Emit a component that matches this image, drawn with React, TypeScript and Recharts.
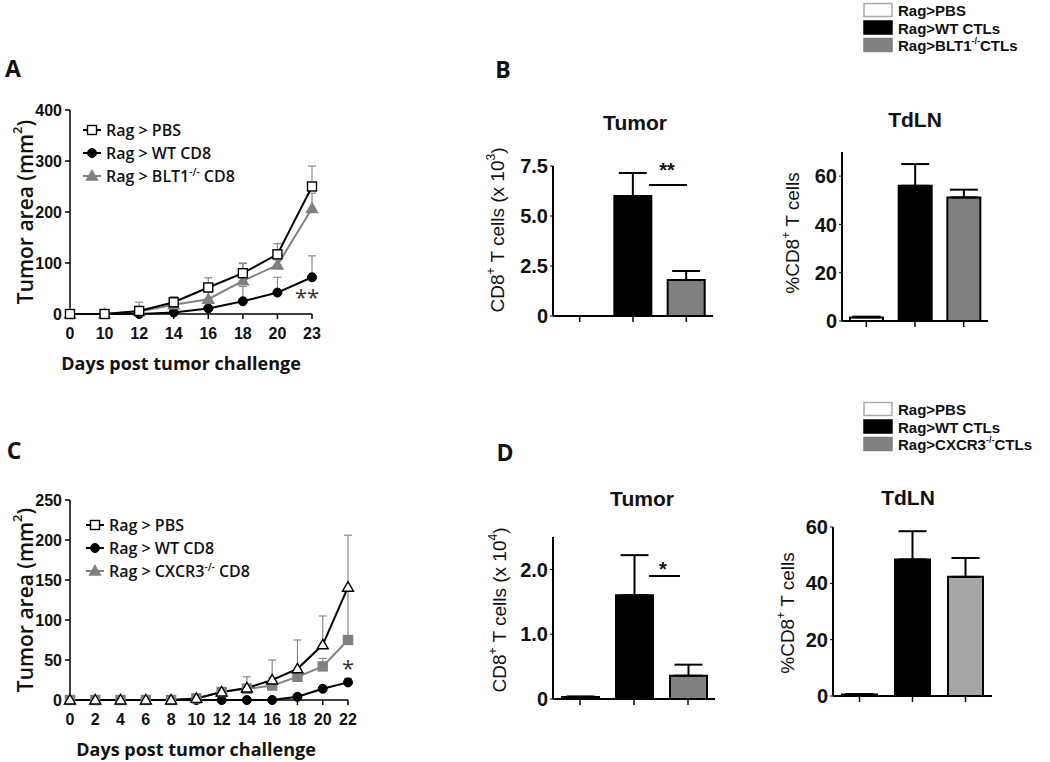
import React from "react";
import { LineChart, Line, XAxis, YAxis, ErrorBar, BarChart, Bar, Cell } from "recharts";

// ---- panel A: tumor growth, BLT1 ----
const daysA = ["0", "10", "12", "14", "16", "18", "20", "23"];
const pbsA = [0, 0, 6, 23, 52, 80, 117, 250];
const pbsErrA = [0, 2, 17, 11, 19, 20, 21, 40];
const wtA = [0, 0, 0, 3, 11, 25, 42, 72];
const wtErrA = [0, 0, 1, 2, 5, 29, 30, 42];
const bltA = [0, 0, 5, 18, 29, 65, 96, 207];
const bltErrA = [0, 1, 8, 6, 14, 34, 10, 30];
const ticksA = [0, 100, 200, 300, 400];

// ---- panel C: tumor growth, CXCR3 ----
const daysC = ["0", "2", "4", "6", "8", "10", "12", "14", "16", "18", "20", "22"];
const pbsC = [0, 0, 0, 0, 0, 2, 10, 15, 25, 39, 69, 141];
const pbsErrC = [0, 0, 0, 0, 0, 1, 5, 14, 25, 36, 36, 65];
const wtC = [0, 0, 0, 0, 0, 0, 0, 0, 0, 4, 14, 22];
const wtErrC = [0, 0, 0, 0, 0, 0, 0, 0, 1, 2, 3, 5];
const cxcrC = [0, 0, 0, 0, 0, 2, 10, 14, 18, 29, 42, 75];
const cxcrErrC = [0, 0, 0, 0, 0, 1, 4, 6, 10, 8, 10, 65];
const ticksC = [0, 50, 100, 150, 200, 250];

// ---- panels B / D: bar charts ----
const groups = ["PBS", "WT", "KO"];
const tumorB = [0, 6.0, 1.8];
const tumorBErr = [0, 1.15, 0.45];
const tdlnB = [1.5, 56, 51.2];
const tdlnBErr = [0.3, 9, 3.2];
const tumorD = [0.03, 1.6, 0.36];
const tumorDErr = [0.01, 0.62, 0.17];
const tdlnD = [0.5, 48.5, 42.3];
const tdlnDErr = [0.2, 10, 6.7];

const SANS = "'Open Sans', sans-serif";
const ARIAL = "'Liberation Sans', Arial, sans-serif";
const GREY = "#808080";
const ERR = "#8a8a8a";

const tableA = daysA.map((d, i) => ({
  day: d,
  pbs: pbsA[i], pbsErr: [0, pbsErrA[i]],
  wt: wtA[i], wtErr: [0, wtErrA[i]],
  ko: bltA[i], koErr: [0, bltErrA[i]],
}));

const tableC = daysC.map((d, i) => ({
  day: d,
  pbs: pbsC[i], pbsErr: [0, pbsErrC[i]],
  wt: wtC[i], wtErr: [0, wtErrC[i]],
  ko: cxcrC[i], koErr: [0, cxcrErrC[i]],
}));

type Shape = "square" | "circle" | "triangle";

function marker(shape: Shape, cx: number, cy: number, fill: string, stroke: string, key?: any) {
  if (shape === "square")
    return <rect key={key} x={cx - 4.5} y={cy - 4.5} width={9} height={9} fill={fill} stroke={stroke} strokeWidth={1.4} />;
  if (shape === "circle")
    return <circle key={key} cx={cx} cy={cy} r={4.5} fill={fill} stroke={stroke} strokeWidth={1} />;
  return (
    <polygon key={key} points={`${cx},${cy - 5.5} ${cx + 5.5},${cy + 4} ${cx - 5.5},${cy + 4}`} fill={fill} stroke={stroke} strokeWidth={1.4} />
  );
}

const dot = (shape: Shape, fill: string, stroke: string) => (p: any) =>
  marker(shape, p.cx, p.cy, fill, stroke, `${shape}-${p.index}`);

const axisTick = { fontFamily: ARIAL, fontWeight: 700, fontSize: 16, fill: "#111" };

function GrowthChart({ data, ticks, max, top, width, height, shapes }: any) {
  return (
    <div style={{ position: "absolute", left: 0, top }}>
      <LineChart width={width} height={height} data={data} margin={{ top: 20, right: 10, bottom: 0, left: 0 }}>
        <XAxis dataKey="day" height={34} tick={axisTick} tickMargin={9} tickSize={5}
          axisLine={{ stroke: "#000", strokeWidth: 1.5 }} tickLine={{ stroke: "#000", strokeWidth: 1.5 }} />
        <YAxis width={70} domain={[0, max]} ticks={ticks} tick={axisTick} tickSize={5} tickMargin={3}
          axisLine={{ stroke: "#000", strokeWidth: 1.5 }} tickLine={{ stroke: "#000", strokeWidth: 1.5 }} />
        <Line dataKey="wt" stroke="#000" strokeWidth={2} dot={dot("circle", "#000", "#000")} isAnimationActive={false}>
          <ErrorBar dataKey="wtErr" width={4} stroke={ERR} strokeWidth={1.2} isAnimationActive={false} />
        </Line>
        <Line dataKey="ko" stroke={GREY} strokeWidth={2} dot={dot(shapes[1], GREY, GREY)} isAnimationActive={false}>
          <ErrorBar dataKey="koErr" width={4} stroke={ERR} strokeWidth={1.2} isAnimationActive={false} />
        </Line>
        <Line dataKey="pbs" stroke="#000" strokeWidth={2} dot={dot(shapes[0], "#fff", "#000")} isAnimationActive={false}>
          <ErrorBar dataKey="pbsErr" width={4} stroke={ERR} strokeWidth={1.2} isAnimationActive={false} />
        </Line>
      </LineChart>
    </div>
  );
}

const barTick = { fontFamily: ARIAL, fontWeight: 700, fontSize: 20, fill: "#111" };

function BarPanel({ left, top, width, height, marginTop, yWidth, values, errs, fills, max, ticks, fmt, barSize }: any) {
  const data = groups.map((g, i) => ({ g, v: values[i], e: [0, errs[i]] }));
  return (
    <div style={{ position: "absolute", left, top }}>
      <BarChart width={width} height={height} data={data} margin={{ top: marginTop, right: 5, bottom: 0, left: 0 }}>
        <XAxis dataKey="g" tickFormatter={() => ""} height={12} tickSize={6}
          axisLine={{ stroke: "#000", strokeWidth: 2 }} tickLine={{ stroke: "#000", strokeWidth: 1.5 }} />
        <YAxis width={yWidth} domain={[0, max]} ticks={ticks} tickFormatter={fmt} tick={barTick} tickSize={3} tickMargin={2}
          axisLine={{ stroke: "#000", strokeWidth: 2 }} tickLine={{ stroke: "#000", strokeWidth: 1 }} />
        <Bar dataKey="v" barSize={barSize} stroke="#000" strokeWidth={2} isAnimationActive={false}>
          {data.map((d, i) => <Cell key={i} fill={fills[i]} />)}
          <ErrorBar dataKey="e" width={14} stroke="#000" strokeWidth={2} isAnimationActive={false} />
        </Bar>
      </BarChart>
    </div>
  );
}

const dec = (v: number) => (v === 0 ? "0" : v.toFixed(1));

function LegendRow({ x, y, shape, fill, stroke, line, children }: any) {
  return (
    <g>
      <line x1={x} x2={x + 18} y1={y} y2={y} stroke={line} strokeWidth={2} />
      {marker(shape, x + 9, y, fill, stroke)}
      <text x={x + 23} y={y} dominantBaseline="central" fontFamily={SANS} fontWeight={600} fontSize={16} fill="#111">
        {children}
      </text>
    </g>
  );
}

function BoxLegend({ y, ko }: any) {
  const rows = [
    { fill: "#fff", stroke: "#aaa", label: <tspan>Rag&gt;PBS</tspan> },
    { fill: "#000", stroke: "#000", label: <tspan>Rag&gt;WT CTLs</tspan> },
    {
      fill: GREY, stroke: GREY,
      label: (<>
        <tspan>Rag&gt;{ko}</tspan>
        <tspan dy={-4} fontSize={9}>-/-</tspan>
        <tspan dy={4}>CTLs</tspan>
      </>),
    },
  ];
  return (
    <g>
      {rows.map((r, i) => (
        <g key={i}>
          <rect x={864} y={y + i * 17.5 - 6.5} width={28} height={13} fill={r.fill} stroke={r.stroke} strokeWidth={1.5} />
          <text x={898} y={y + i * 17.5} dominantBaseline="central" fontFamily={ARIAL} fontWeight={700} fontSize={15} fill="#111">
            {r.label}
          </text>
        </g>
      ))}
    </g>
  );
}

function Overlay() {
  const letter = { fontFamily: SANS, fontWeight: 700, fontSize: 23, fill: "#111", textAnchor: "middle" as const, dominantBaseline: "central" as const };
  const title = { fontFamily: ARIAL, fontWeight: 700, fontSize: 21, fill: "#111", textAnchor: "middle" as const, dominantBaseline: "central" as const };
  const ylab = { fontFamily: ARIAL, fontSize: 19, fill: "#111", textAnchor: "middle" as const, dominantBaseline: "central" as const };
  const growthY = { fontFamily: SANS, fontWeight: 600, fontSize: 21, fill: "#111", textAnchor: "middle" as const, dominantBaseline: "central" as const };
  const growthX = { fontFamily: SANS, fontWeight: 700, fontSize: 18, fill: "#111", textAnchor: "middle" as const, dominantBaseline: "central" as const };
  return (
    <svg width={1050} height={762} style={{ position: "absolute", left: 0, top: 0, pointerEvents: "none" }}>
      <text x={13} y={68} {...letter}>A</text>
      <text x={503} y={69} {...letter}>B</text>
      <text x={14} y={450} {...letter}>C</text>
      <text x={505} y={452} {...letter}>D</text>

      {/* panel A */}
      <text x={25} y={212} transform="rotate(-90 25 212)" {...growthY}>
        Tumor area (mm<tspan dy={-8} fontSize={13}>2</tspan><tspan dy={8}>)</tspan>
      </text>
      <text x={181} y={363} {...growthX}>Days post tumor challenge</text>
      <LegendRow x={83} y={130} shape="square" fill="#fff" stroke="#000" line="#000">Rag &gt; PBS</LegendRow>
      <LegendRow x={83} y={153} shape="circle" fill="#000" stroke="#000" line="#000">Rag &gt; WT CD8</LegendRow>
      <LegendRow x={83} y={176} shape="triangle" fill={GREY} stroke={GREY} line={GREY}>
        <tspan>Rag &gt; BLT1</tspan><tspan dy={-4} fontSize={10}>-/-</tspan><tspan dy={4}> CD8</tspan>
      </LegendRow>
      <text x={307} y={296} fontFamily={SANS} fontSize={22} fill="#333" textAnchor="middle" dominantBaseline="central">**</text>

      {/* panel C */}
      <text x={25} y={600} transform="rotate(-90 25 600)" {...growthY}>
        Tumor area (mm<tspan dy={-8} fontSize={13}>2</tspan><tspan dy={8}>)</tspan>
      </text>
      <text x={196} y={749} {...growthX}>Days post tumor challenge</text>
      <LegendRow x={86} y={525} shape="square" fill="#fff" stroke="#000" line="#000">Rag &gt; PBS</LegendRow>
      <LegendRow x={86} y={548} shape="circle" fill="#000" stroke="#000" line="#000">Rag &gt; WT CD8</LegendRow>
      <LegendRow x={86} y={571} shape="triangle" fill={GREY} stroke={GREY} line={GREY}>
        <tspan>Rag &gt; CXCR3</tspan><tspan dy={-4} fontSize={10}>-/-</tspan><tspan dy={4}> CD8</tspan>
      </LegendRow>
      <text x={348} y={667} fontFamily={SANS} fontSize={22} fill="#333" textAnchor="middle" dominantBaseline="central">*</text>

      {/* panel B */}
      <BoxLegend y={10} ko="BLT1" />
      <text x={635} y={122} {...title}>Tumor</text>
      <text x={915} y={119} {...title}>TdLN</text>
      <text x={497} y={230} transform="rotate(-90 497 230)" {...ylab}>
        CD8<tspan dy={-6} fontSize={12}>+</tspan><tspan dy={6}> T cells (x 10</tspan><tspan dy={-6} fontSize={12}>3</tspan><tspan dy={6}>)</tspan>
      </text>
      <text x={792} y={233} transform="rotate(-90 792 233)" {...ylab}>
        %CD8<tspan dy={-6} fontSize={12}>+</tspan><tspan dy={6}> T cells</tspan>
      </text>
      <text x={667} y={170} fontFamily={ARIAL} fontWeight={700} fontSize={20} fill="#111" textAnchor="middle" dominantBaseline="central">**</text>
      <line x1={649} x2={687} y1={185} y2={185} stroke="#000" strokeWidth={2} />

      {/* panel D */}
      <BoxLegend y={409} ko="CXCR3" />
      <text x={642} y={498} {...title}>Tumor</text>
      <text x={908} y={497} {...title}>TdLN</text>
      <text x={499} y={610} transform="rotate(-90 499 610)" {...ylab}>
        CD8<tspan dy={-6} fontSize={12}>+</tspan><tspan dy={6}> T cells (x 10</tspan><tspan dy={-6} fontSize={12}>4</tspan><tspan dy={6}>)</tspan>
      </text>
      <text x={787} y={613} transform="rotate(-90 787 613)" {...ylab}>
        %CD8<tspan dy={-6} fontSize={12}>+</tspan><tspan dy={6}> T cells</tspan>
      </text>
      <text x={663} y={569} fontFamily={ARIAL} fontWeight={700} fontSize={20} fill="#111" textAnchor="middle" dominantBaseline="central">*</text>
      <line x1={649} x2={680} y1={576} y2={576} stroke="#000" strokeWidth={2} />
    </svg>
  );
}

export default function App() {
  return (
    <div style={{ position: "absolute", left: 0, top: 0, width: 1050, height: 762, background: "#fff", overflow: "hidden" }}>
      <GrowthChart data={tableA} ticks={ticksA} max={400} top={90} width={322} height={258} shapes={["square", "triangle"]} />
      <GrowthChart data={tableC} ticks={ticksC} max={250} top={480} width={358} height={254} shapes={["triangle", "square"]} />

      <BarPanel left={470} top={140} width={248} height={188} marginTop={26} yWidth={83}
        values={tumorB} errs={tumorBErr} fills={["#fff", "#000", GREY]} max={7.5} ticks={[0, 2.5, 5, 7.5]} fmt={dec} barSize={37} />
      <BarPanel left={770} top={130} width={223} height={203} marginTop={22} yWidth={72}
        values={tdlnB} errs={tdlnBErr} fills={["#fff", "#000", GREY]} max={70} ticks={[0, 20, 40, 60]} barSize={33} />
      <BarPanel left={470} top={510} width={250} height={201} marginTop={27} yWidth={83}
        values={tumorD} errs={tumorDErr} fills={["#fff", "#000", GREY]} max={2.5} ticks={[0, 1, 2]} fmt={dec} barSize={37} />
      <BarPanel left={760} top={500} width={237} height={208} marginTop={27} yWidth={73}
        values={tdlnD} errs={tdlnDErr} fills={["#fff", "#000", "#a6a6a6"]} max={60} ticks={[0, 20, 40, 60]} barSize={35} />

      <Overlay />
    </div>
  );
}
